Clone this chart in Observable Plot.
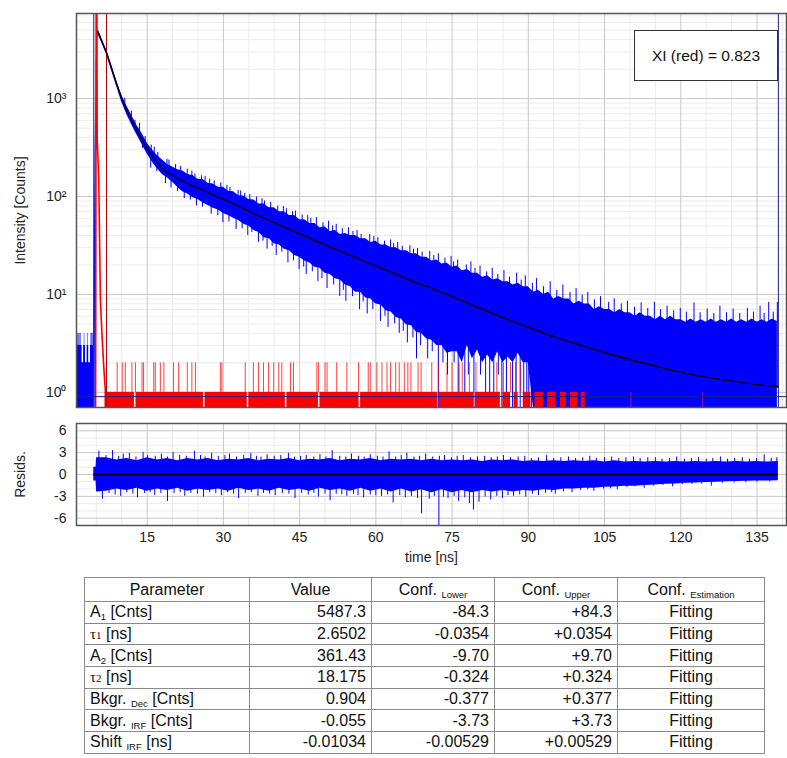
<!DOCTYPE html>
<html>
<head>
<meta charset="utf-8">
<script src="https://cdn.jsdelivr.net/npm/d3@7"></script>
<script src="https://cdn.jsdelivr.net/npm/@observablehq/plot@0.6"></script>
<style>
  body { margin: 0; background: #fff; font-family: "Liberation Sans", Arial, sans-serif; }
  #wrap { position: relative; width: 787px; height: 758px; overflow: hidden; }
  #wrap svg { display: block; }
  #chi {
    position: absolute; left: 634px; top: 30px; width: 144px; height: 51px;
    border: 1px solid #333; background: #fff; box-sizing: border-box;
    display: flex; align-items: center; justify-content: center;
    font-size: 15.5px; color: #111;
  }
  #params {
    position: absolute; left: 84px; top: 577px;
    border-collapse: collapse; table-layout: fixed; width: 680px;
    font-size: 16px; color: #111; border: 1px solid #555;
  }
  #params th, #params td {
    border: 1px solid #8a8a8a; padding: 0 5px; font-weight: normal;
    white-space: nowrap; overflow: hidden;
  }
  #params tr.head { height: 24px; }
  #params tr.row { height: 21.7px; }
  #params th { text-align: center; }
  #params td.num { text-align: right; }
  #params td.mid { text-align: center; }
  .sub { font-size: 9.5px; position: relative; top: 3px; }
  .tau { font-family: "Liberation Serif", "DejaVu Serif", serif; font-size: 15px; }
  .tau .n { font-size: 11px; }
</style>
</head>
<body>
<div id="wrap"></div>
<script>
// ---------- axes ----------
const xDomain = [1.1, 140.8];
const xTicks = [15, 30, 45, 60, 75, 90, 105, 120, 135];
const xMinor = [5, 10, 20, 25, 35, 40, 50, 55, 65, 70, 80, 85, 95, 100, 110, 115, 125, 130, 140];
const yDomain = [0.7, 7400];
const yTicks = [1, 10, 100, 1000];
const yTickLabels = ["10⁰", "10¹", "10²", "10³"];
const yMinor = [0.8, 0.9, 2, 3, 4, 5, 6, 7, 8, 9, 20, 30, 40, 50, 60, 70, 80, 90,
  200, 300, 400, 500, 600, 700, 800, 900, 2000, 3000, 4000, 5000, 6000, 7000];
const resDomain = [-7, 7];
const resTicks = [-6, -3, 0, 3, 6];
const resTickLabels = ["-6", "-3", "0", "3", "6"];
const resMinor = [-5, -4, -2, -1, 1, 2, 4, 5];

// ---------- fit parameters ----------
const paramName = ["A", "τ", "A", "τ", "Bkgr.", "Bkgr.", "Shift"];
const paramSub = ["1", "1", "2", "2", "Dec", "IRF", "IRF"];
const paramUnit = ["[Cnts]", "[ns]", "[Cnts]", "[ns]", "[Cnts]", "[Cnts]", "[ns]"];
const paramValue = ["5487.3", "2.6502", "361.43", "18.175", "0.904", "-0.055", "-0.01034"];
const confLower = ["-84.3", "-0.0354", "-9.70", "-0.324", "-0.377", "-3.73", "-0.00529"];
const confUpper = ["+84.3", "+0.0354", "+9.70", "+0.324", "+0.377", "+3.73", "+0.00529"];
const confEstimation = ["Fitting", "Fitting", "Fitting", "Fitting", "Fitting", "Fitting", "Fitting"];
const headMain = ["Parameter", "Value", "Conf.", "Conf.", "Conf."];
const headSub = ["", "", "Lower", "Upper", "Estimation"];
const chiLabel = "XI (red) = 0.823";

// ---------- decay counts (blue band, counts per channel) ----------
const bandT = [4.5, 4.75, 5.0, 5.3, ...d3.range(6, 140)];
const bandHi = [3, 300, 2600, 5150,
  4180, 3100, 2200, 1510, 1090, 840, 670, 530, 440, 352,
  300, 262, 236, 212, 200, 188, 182, 168, 164, 150,
  149, 137, 134, 124, 124, 113, 112, 102, 101, 93,
  92, 84, 84, 77, 77, 70, 70, 64, 64, 58,
  58, 53, 53, 48, 49, 44, 45, 41, 42, 40,
  40, 37, 37, 34, 35, 32, 32, 30, 30, 28,
  28, 26, 26, 24, 24, 22, 22.5, 20.5, 21, 19,
  19.5, 17.5, 18, 16.5, 16.5, 15, 15.5, 14, 14.5, 13.5,
  13.5, 12.5, 13, 12, 12, 10.5, 11, 10, 10.5, 9,
  9.5, 9, 9, 8, 8.5, 8, 8, 7, 7.5, 7,
  7, 6.5, 7, 6.5, 6.5, 6, 6.5, 6, 6, 5.5,
  6, 5.5, 6, 5.5, 5.5, 5.2, 5.6, 5.2, 5.5, 5.2,
  5.6, 5.2, 5.5, 5.2, 5.6, 5.2, 5.5, 5.2, 5.6, 5.2,
  5.5, 5.2, 5.6, 5.3];
const bandLo = [0.7, 0.7, 1500, 4550,
  3780, 2820, 1920, 1330, 920, 690, 535, 425, 340, 272,
  225, 192, 168, 155, 140, 124, 112, 106, 97, 93,
  86, 81, 76, 73, 67, 64, 60, 57, 52, 50,
  45, 43, 38, 37, 33, 32, 29, 28, 25, 24,
  22, 21, 19, 18.5, 16.5, 16, 14.5, 14, 12.5, 12,
  10.5, 10.5, 9.2, 9, 8, 7.8, 6.8, 6.6, 5.8, 5.6,
  4.9, 4.8, 4.1, 4, 3.5, 3.4, 3, 3, 2.5, 2.6,
  2.6, 2, 3, 2.2, 2.7, 2, 2.4, 2, 2.6, 2,
  2.3, 2, 2.5, 2, 2, 0.7, 0.7, 0.7, 0.7, 0.7,
  0.7, 0.7, 0.7, 0.7, 0.7, 0.7, 0.7, 0.7, 0.7, 0.7,
  0.7, 0.7, 0.7, 0.7, 0.7, 0.7, 0.7, 0.7, 0.7, 0.7,
  0.7, 0.7, 0.7, 0.7, 0.7, 0.7, 0.7, 0.7, 0.7, 0.7,
  0.7, 0.7, 0.7, 0.7, 0.7, 0.7, 0.7, 0.7, 0.7, 0.7,
  0.7, 0.7, 0.7, 0.7];

// counts before the excitation pulse
const preT = [1.1, 1.23, 1.89, 2.2, 2.5, 2.87, 3.2, 3.5, 3.85, 4.5];
const preHi = [3, 3, 3, 2, 3, 2, 3, 2, 3, 3];
const preSpikeT = [1.25, 1.4, 1.55, 1.75, 1.85, 2.6, 3.25, 3.9, 4.05, 4.2, 4.35];

// single-channel excursions above the band: [time, from, to]
const upSpikes = [
  [10.6, 860, 1010], [11.9, 630, 745], [13.5, 430, 560], [14.6, 330, 410], [15.8, 265, 335],
  [16.4, 245, 318], [17.1, 222, 282], [18.9, 185, 240], [19.3, 178, 236], [20.6, 160, 212],
  [21.6, 150, 203], [22.9, 142, 190], [23.8, 133, 182], [24.4, 127, 170], [25.7, 118, 163],
  [26.4, 115, 160], [27.3, 110, 150], [28.2, 103, 145], [29.5, 97, 138], [30.7, 91, 130],
  [31.3, 88, 124], [32.9, 80, 115], [33.4, 78, 114], [34.2, 75, 108], [35.2, 71, 105],
  [36.5, 66, 99], [37.6, 62, 95], [38.1, 60, 90], [39.3, 57, 87], [40.7, 52, 80],
  [41.8, 50, 79], [42.4, 48, 75], [43.6, 45, 70], [44.2, 43, 71], [45.5, 41, 65],
  [46.6, 38, 64], [47.2, 37, 60], [48.3, 35, 61], [49.6, 33, 54], [50.7, 31, 56],
  [51.5, 30, 50], [52.2, 29, 52], [53.4, 27, 47], [54.6, 26, 48], [55.5, 25, 44],
  [56.3, 23, 45], [57.1, 22, 41], [58.8, 21, 41], [59.6, 20, 39], [60.4, 19, 38],
  [61.7, 18, 35], [62.9, 17, 36], [63.5, 16.5, 33], [64.3, 16, 34], [65.2, 15, 31],
  [66.7, 14, 31.5], [67.4, 13.5, 29], [68.2, 13, 29.5], [69.1, 12.5, 27], [70.6, 12, 27.5],
  [71.4, 11.5, 25], [72.3, 11, 26], [73.6, 10.5, 23.5], [74.8, 9.5, 24.5], [75.3, 9.3, 21.5],
  [76.1, 9, 22.5], [77.8, 8.5, 20], [78.7, 8, 21.5], [79.5, 7.8, 18.5], [80.5, 7.4, 19.5],
  [81.8, 7, 17], [82.9, 6.5, 18.5], [84.0, 6.1, 16], [85.2, 5.8, 17.5], [86.3, 5.5, 15],
  [87.7, 5, 16.5], [88.6, 4.9, 14], [89.4, 4.6, 15.5], [90.8, 4.4, 13], [91.6, 4, 14.5],
  [93.0, 3.9, 12], [94.3, 3.8, 13.5], [95.6, 3.6, 11], [96.8, 3.4, 12.5], [98.2, 3.2, 10.5],
  [99.4, 3, 11.5], [100.6, 3, 9.8], [101.7, 2.8, 10.5], [103.0, 2.7, 8.8], [104.2, 2.6, 9.5],
  [105.8, 2.5, 8.3], [106.9, 2.4, 9], [108.3, 2.3, 8], [109.5, 2.2, 8.5], [110.9, 2.1, 7.4],
  [112.2, 2, 8.2], [113.5, 2, 7.2], [114.8, 1.9, 8.3], [116.0, 1.8, 7], [117.3, 1.7, 7.6],
  [118.6, 1.65, 6.8], [119.9, 1.6, 7.2], [121.1, 1.55, 6.6], [122.6, 1.5, 8.2], [123.8, 1.45, 6.5],
  [125.2, 1.4, 7.1], [126.5, 1.38, 6.4], [127.7, 1.3, 7.6], [129.0, 1.3, 6.5], [130.3, 1.3, 7.1],
  [131.6, 1.27, 6.4], [133.1, 1.2, 7.2], [134.3, 1.2, 6.6], [135.6, 1.2, 7.6], [136.4, 1.2, 6.4],
  [137.3, 1.2, 8.3], [138.2, 1.15, 6.6], [139.0, 1.1, 8.3]
];
// single-channel excursions below the band: [time, from, to]
const dnSpikes = [
  [11.2, 760, 660], [12.6, 600, 470], [14.1, 375, 310], [15.7, 258, 195], [16.9, 228, 180],
  [18.6, 190, 135], [19.7, 170, 122], [21.0, 155, 112], [22.3, 142, 95], [23.5, 134, 92],
  [24.7, 124, 80], [25.9, 116, 78], [27.6, 105, 66], [28.9, 99, 64], [29.9, 93, 54],
  [31.1, 88, 55], [32.5, 81, 46], [33.7, 77, 47], [34.8, 72, 40], [35.6, 69, 43],
  [36.9, 64, 34], [37.8, 61, 35], [38.6, 58, 29], [39.6, 56, 31], [40.4, 53, 25],
  [41.5, 50, 27], [42.7, 47, 21], [43.8, 45, 22], [44.9, 42, 18], [45.8, 40, 19],
  [46.3, 39, 16], [47.5, 36.5, 17], [48.6, 34, 13.5], [49.4, 33, 14.5], [50.4, 31, 11.5],
  [51.7, 30, 12.5], [52.9, 27, 9.5], [53.6, 26.5, 11], [54.1, 26, 8.5], [55.4, 25, 9.5],
  [56.8, 22, 7], [57.5, 22, 8.4], [58.3, 21, 6.3], [59.4, 20, 7], [60.9, 18, 5.3],
  [61.8, 17.8, 6], [62.4, 17, 4.6], [63.7, 16, 5], [64.6, 15, 4], [65.4, 15, 4.2],
  [66.2, 14, 3.2], [67.3, 13.6, 3.6], [68.0, 13, 2.2], [68.8, 12.7, 3], [70.2, 12, 2.2],
  [71.1, 11.5, 2.6], [72.3, 11, 0.7], [73.2, 10.5, 2], [74.1, 10, 1.5], [75.4, 9.3, 2],
  [76.2, 9, 0.7], [77.5, 8.5, 0.7], [78.2, 8.2, 1.5], [79.3, 7.8, 0.7], [80.6, 7.3, 1.5],
  [81.6, 7, 0.7], [82.4, 6.7, 0.7], [83.2, 6.4, 0.7], [84.1, 6.1, 1.5], [84.8, 5.9, 0.7],
  [85.7, 5.6, 0.7], [86.9, 5.3, 0.7], [87.6, 5.1, 0.7], [88.4, 5, 0.7], [89.1, 4.8, 0.7],
  [89.7, 4.7, 0.7], [90.1, 4.6, 0.7], [90.6, 4.5, 0.7]
];

// ---------- instrument response (red) ----------
const irfT = [4.85, 5.0, 5.08, 5.17, 5.48, 5.8, 6.1, 6.47, 6.8];
const irfC = [0.7, 60000, 60000, 400, 150, 9, 4, 1.8, 1];
const irfSegStart = [6.7, 12.8, 26.4, 35.0, 42.5, 49.0, 57.0, 72.5, 79.6, 85.0, 87.2, 89.0, 91.3, 93.8, 96.3, 98.3, 100.4];
const irfSegEnd = [12.5, 26.1, 34.7, 42.2, 48.7, 56.7, 72.2, 79.3, 84.5, 86.5, 88.0, 90.5, 93.0, 95.5, 97.5, 99.8, 101.2];
const irfTwoT = [9.1, 10.1, 10.7, 12.0, 12.7, 14.0, 14.3, 16.3, 16.6, 17.6, 18.3, 20.2, 21.2, 22.9, 23.8,
  24.5, 29.4, 29.7, 34.3, 35.9, 36.9, 37.9, 38.9, 39.9, 40.9, 41.5, 43.2, 43.8, 48.4, 48.7, 50.0,
  50.4, 52.3, 54.3, 56.6, 58.5, 58.9, 60.2, 61.2, 62.2, 62.9, 63.9, 64.6, 65.6, 66.3, 66.9, 68.3,
  68.9, 71.0, 72.3, 74.0, 75.0, 76.4, 77.0, 78.4, 79.7, 83.8, 85.1, 86.5, 87.5, 88.5];
const irfLoneT = [110.2, 124.3];

// ---------- fitted decay (black) ----------
const fitT = [5.3, 6, 7, 8, 9, 10, 11, 12, 13, 14, 15, 16, 17, 18, 19, 20, 22.5, 25, 28.7, 32, 36, 40,
  45, 50, 55, 60, 65, 70, 75, 80, 85, 90, 95, 100, 105, 110, 115, 120, 125, 130, 135, 139.2];
const fitC = [4860, 3960, 2960, 2050, 1420, 1010, 760, 590, 470, 378, 308, 257, 220, 194, 176, 163, 139, 122, 100, 84, 67, 54,
  41.5, 32, 25, 19.5, 15.2, 12, 9.5, 7.4, 5.8, 4.6, 3.7, 3.05, 2.55, 2.15, 1.85, 1.6, 1.43, 1.3, 1.2, 1.14];

// fit range markers and IRF reference
const rangeMarks = [4.5, 139.2];
const irfMark = 7.0;

// ---------- weighted residuals ----------
const resT = [4.5, 4.95, 5.05, ...d3.range(7, 139, 2), 139.2];
const resHi = [1.0, 1.0, 2.3,
  2.3, 2.0, 2.2, 1.9, 2.3, 2.0, 2.2, 1.9, 2.2, 2.0,
  2.2, 1.9, 2.1, 2.0, 2.2, 1.9, 2.1, 2.0, 2.2, 1.9,
  2.1, 2.0, 2.2, 1.9, 2.1, 2.0, 2.2, 1.9, 2.1, 2.0,
  2.1, 1.9, 2.1, 1.9, 2.0, 1.9, 2.0, 1.8, 2.0, 1.9,
  2.0, 1.8, 1.9, 1.8, 1.9, 1.8, 1.9, 1.8, 1.9, 1.7,
  1.9, 1.7, 1.8, 1.7, 1.8, 1.7, 1.8, 1.7, 1.8, 1.7,
  1.8, 1.7, 1.8, 1.7, 1.8, 1.7,
  1.8];
const resLo = [-0.9, -0.9, -2.4,
  -2.3, -2.0, -2.2, -1.9, -2.3, -2.0, -2.2, -1.9, -2.3, -2.0,
  -2.2, -2.0, -2.3, -1.9, -2.2, -2.0, -2.3, -1.9, -2.2, -2.0,
  -2.3, -1.9, -2.2, -2.0, -2.3, -1.9, -2.3, -2.0, -2.4, -2.0,
  -2.4, -2.1, -2.5, -2.1, -2.5, -2.2, -2.5, -2.2, -2.4, -2.2,
  -2.4, -2.2, -2.3, -2.1, -2.2, -2.0, -2.0, -1.9, -1.9, -1.75,
  -1.7, -1.6, -1.6, -1.5, -1.45, -1.35, -1.3, -1.2, -1.15, -1.1,
  -1.05, -1.0, -0.95, -0.92, -0.9, -0.88,
  -0.85];
// residual excursions: [time, value]
const resUp = [
  [5.5, 3.2], [6.9, 2.6], [8.2, 3.3], [9.4, 2.5], [10.3, 2.8], [11.5, 2.9], [12.8, 2.4], [14.2, 3.0],
  [15.1, 2.6], [16.6, 2.5], [17.8, 2.8], [19.0, 2.4], [20.1, 3.0], [21.4, 2.6], [22.7, 2.5], [24.3, 3.2],
  [25.5, 2.6], [26.4, 2.4], [27.7, 2.9], [29.0, 2.5], [30.3, 2.6], [31.2, 2.8], [32.6, 2.4], [34.0, 2.6],
  [35.4, 2.9], [36.5, 2.5], [37.4, 2.4], [38.6, 2.7], [40.0, 2.5], [41.3, 2.6], [42.8, 2.9], [44.0, 2.4],
  [45.2, 2.5], [46.3, 2.6], [47.8, 2.4], [49.0, 2.7], [50.2, 2.4], [51.4, 3.3], [52.9, 2.5], [54.1, 2.4],
  [55.2, 2.8], [56.6, 2.5], [57.7, 2.4], [58.9, 2.7], [60.3, 2.5], [61.4, 2.4], [62.6, 3.1], [63.9, 2.4],
  [65.0, 2.6], [66.1, 2.9], [67.5, 2.4], [68.6, 2.5], [69.8, 2.8], [71.2, 2.4], [72.5, 2.5], [73.5, 2.6],
  [74.9, 2.3], [76.0, 2.5], [77.2, 2.6], [78.6, 2.3], [80.0, 2.4], [81.4, 2.5], [82.7, 2.3], [83.9, 2.4],
  [85.1, 2.6], [86.5, 2.3], [88.0, 2.4], [89.3, 2.5], [90.6, 2.2], [92.0, 2.3], [93.6, 2.6], [95.0, 2.2],
  [96.4, 2.3], [97.9, 2.4], [99.3, 2.2], [100.7, 2.3], [102.1, 2.5], [103.4, 2.2], [105.0, 2.3], [106.4, 2.4],
  [107.8, 2.2], [109.2, 2.3], [110.7, 2.4], [112.0, 2.2], [113.5, 2.3], [115.0, 2.3], [116.3, 2.1], [117.8, 2.2],
  [119.2, 2.4], [120.7, 2.1], [122.1, 2.2], [123.5, 2.3], [125.0, 2.1], [126.3, 2.2], [127.8, 2.4], [129.2, 2.1],
  [130.6, 2.2], [132.1, 2.3], [133.5, 2.1], [134.9, 2.2], [136.4, 2.7], [137.8, 2.2], [138.9, 2.3]
];
const resDn = [
  [6.2, -3.4], [7.5, -2.6], [8.7, -2.8], [9.8, -3.0], [11.0, -2.5], [12.2, -2.7], [13.1, -3.2], [14.5, -2.6],
  [15.6, -2.5], [16.5, -2.9], [17.7, -2.6], [19.0, -3.7], [20.3, -2.6], [21.5, -2.5], [22.4, -3.0], [23.6, -2.6],
  [24.9, -2.7], [26.1, -3.1], [27.3, -2.5], [28.5, -2.6], [29.6, -2.9], [30.8, -2.5], [32.0, -2.7], [33.0, -3.3],
  [34.3, -2.6], [35.5, -2.5], [36.8, -3.0], [37.9, -2.6], [39.1, -2.7], [40.2, -2.9], [41.6, -2.6], [42.9, -2.7],
  [44.1, -3.3], [45.4, -2.6], [46.7, -2.8], [47.8, -2.6], [48.7, -3.1], [50.0, -2.7], [51.0, -3.6], [52.2, -2.7],
  [53.3, -2.8], [54.3, -3.0], [55.6, -2.7], [56.5, -2.9], [57.6, -3.2], [58.9, -2.8], [60.0, -2.9], [61.1, -3.0],
  [62.3, -2.8], [63.4, -3.9], [64.7, -2.9], [65.8, -3.2], [67.0, -3.0], [68.2, -3.3], [69.0, -5.4], [70.5, -3.4],
  [71.5, -3.0], [72.4, -7.0], [73.3, -3.1], [74.2, -3.3], [75.4, -3.0], [76.3, -3.7], [77.5, -3.2], [78.4, -4.0],
  [79.2, -4.9], [80.3, -3.8], [81.5, -3.1], [82.6, -3.5], [83.8, -3.0], [84.9, -3.3], [86.0, -2.9], [87.1, -3.0],
  [88.3, -2.8], [89.5, -3.1], [90.8, -2.7], [92.0, -2.9], [93.4, -2.6], [94.6, -2.5], [95.3, -2.7], [96.9, -2.4],
  [98.6, -2.5], [100.3, -2.2], [101.7, -2.1], [102.9, -2.3], [104.8, -2.0], [106.2, -1.95], [107.5, -2.1], [109.4, -1.8],
  [111.0, -1.7], [112.8, -1.9], [114.6, -1.6], [116.5, -1.5], [118.4, -1.7], [120.3, -1.4], [122.2, -1.35], [124.1, -1.3],
  [126.0, -1.6], [128.2, -1.2], [130.5, -1.15], [132.8, -1.1], [135.0, -1.05], [137.5, -1.0]
];

// ---------- styling ----------
const BLUE = "#0000ff", RED = "#ff0000", NAVY = "#1c1c8c", DARKRED = "#b40000";
const GRID_MAJOR = "#c8c8c8", GRID_MINOR = "#ebebeb", FRAME = "#555";
const font = '"Liberation Sans", Arial, sans-serif';

// ---------- assemble rows ----------
const band = bandT.map((t, i) => ({t, lo: bandLo[i], hi: bandHi[i]}));
const pre = preT.map((t, i) => ({t, hi: preHi[i]}));
const irf = irfT.map((t, i) => ({t, c: irfC[i]}));
const irfSegs = irfSegStart.map((a, i) => ({a, b: irfSegEnd[i]}));
const fit = fitT.map((t, i) => ({t, c: fitC[i]}));
const resBand = resT.map((t, i) => ({t, lo: resLo[i], hi: resHi[i]}));
const bkgDec = parseFloat(paramValue[4]);
const yFloor = yDomain[0];

const wrap = document.getElementById("wrap");

// ---------- decay panel ----------
const decay = Plot.plot({
  width: 787, height: 410,
  marginTop: 13, marginRight: 1, marginBottom: 3, marginLeft: 76,
  style: {fontFamily: font, fontSize: "14px", color: "#222", background: "transparent"},
  x: {domain: xDomain, axis: null},
  y: {
    type: "log", domain: yDomain, ticks: yTicks,
    tickFormat: d => yTickLabels[yTicks.indexOf(d)],
    tickSize: 0, tickPadding: 10,
    label: "Intensity [Counts]", labelAnchor: "center", labelArrow: "none", labelOffset: 61
  },
  marks: [
    Plot.ruleX(xMinor, {stroke: GRID_MINOR}),
    Plot.ruleY(yMinor, {stroke: GRID_MINOR}),
    Plot.ruleX(xTicks, {stroke: GRID_MAJOR}),
    Plot.ruleY(yTicks, {stroke: GRID_MAJOR}),
    Plot.areaY(pre, {x: "t", y1: yFloor, y2: "hi", fill: BLUE, curve: "step-after"}),
    Plot.ruleX(preSpikeT, {x: d => d, y1: 3, y2: 4, stroke: BLUE, strokeOpacity: 0.5}),
    Plot.areaY(band, {x: "t", y1: "lo", y2: "hi", fill: BLUE}),
    Plot.ruleX(upSpikes, {x: d => d[0], y1: d => d[1], y2: d => d[2], stroke: BLUE}),
    Plot.ruleX(dnSpikes, {x: d => d[0], y1: d => d[2], y2: d => d[1], stroke: BLUE}),
    Plot.rect(irfSegs, {x1: "a", x2: "b", y1: yFloor, y2: 1, fill: RED}),
    Plot.ruleX(irfTwoT, {x: d => d, y1: 1, y2: 2, stroke: RED, strokeOpacity: 0.75}),
    Plot.ruleX(irfLoneT, {x: d => d, y1: yFloor, y2: 1, stroke: "#b0208a", strokeOpacity: 0.8}),
    Plot.line(irf, {x: "t", y: "c", stroke: RED, strokeWidth: 1.6, clip: true}),
    Plot.ruleY([bkgDec], {stroke: NAVY}),
    Plot.ruleX(rangeMarks, {stroke: NAVY}),
    Plot.ruleX([irfMark], {stroke: DARKRED}),
    Plot.line(fit, {x: "t", y: "c", stroke: "#000", strokeWidth: 1.4, curve: "monotone-x"}),
    Plot.frame({stroke: FRAME, strokeWidth: 1.5})
  ]
});
wrap.appendChild(decay);

// ---------- residuals panel ----------
const resid = Plot.plot({
  width: 787, height: 160,
  marginTop: 13, marginRight: 1, marginBottom: 45, marginLeft: 76,
  style: {fontFamily: font, fontSize: "14px", color: "#222", background: "transparent"},
  x: {
    domain: xDomain, ticks: xTicks, tickSize: 0, tickPadding: 7,
    label: "time [ns]", labelAnchor: "center", labelArrow: "none", labelOffset: 36
  },
  y: {
    domain: resDomain, ticks: resTicks,
    tickFormat: d => resTickLabels[resTicks.indexOf(d)],
    tickSize: 0, tickPadding: 10,
    label: "Resids.", labelAnchor: "center", labelArrow: "none", labelOffset: 61
  },
  marks: [
    Plot.ruleX(xMinor, {stroke: GRID_MINOR}),
    Plot.ruleY(resMinor, {stroke: GRID_MINOR}),
    Plot.ruleX(xTicks, {stroke: GRID_MAJOR}),
    Plot.ruleY(resTicks, {stroke: GRID_MAJOR}),
    Plot.areaY(resBand, {x: "t", y1: "lo", y2: "hi", fill: BLUE}),
    Plot.ruleX(resUp, {x: d => d[0], y1: 0, y2: d => d[1], stroke: BLUE}),
    Plot.ruleX(resDn, {x: d => d[0], y1: 0, y2: d => d[1], stroke: BLUE, clip: true}),
    Plot.ruleY([0], {x1: rangeMarks[0], x2: rangeMarks[1], stroke: "#000", strokeWidth: 2}),
    Plot.frame({stroke: FRAME, strokeWidth: 1.5})
  ]
});
wrap.appendChild(resid);

// ---------- chi-square box ----------
const chi = document.createElement("div");
chi.id = "chi";
chi.textContent = chiLabel;
wrap.appendChild(chi);

// ---------- parameter table ----------
const table = document.createElement("table");
table.id = "params";
const colW = [165, 122, 123, 123, 147];
const colgroup = document.createElement("colgroup");
colW.forEach(w => { const c = document.createElement("col"); c.style.width = w + "px"; colgroup.appendChild(c); });
table.appendChild(colgroup);

const head = document.createElement("tr");
head.className = "head";
headMain.forEach((h, i) => {
  const th = document.createElement("th");
  th.textContent = h;
  if (headSub[i]) {
    th.append(" ");
    const s = document.createElement("span");
    s.className = "sub";
    s.textContent = headSub[i];
    th.appendChild(s);
  }
  head.appendChild(th);
});
table.appendChild(head);

paramName.forEach((name, i) => {
  const tr = document.createElement("tr");
  tr.className = "row";
  const c0 = document.createElement("td");
  if (name === "τ") {
    const t = document.createElement("span");
    t.className = "tau";
    t.textContent = "τ";
    const n = document.createElement("span");
    n.className = "n";
    n.textContent = paramSub[i];
    t.appendChild(n);
    c0.appendChild(t);
  } else {
    c0.append(name);
    if (name !== "A") c0.append(" ");
    const s = document.createElement("span");
    s.className = "sub";
    s.textContent = paramSub[i];
    c0.appendChild(s);
  }
  c0.append(" " + paramUnit[i]);
  tr.appendChild(c0);
  [paramValue[i], confLower[i], confUpper[i]].forEach(v => {
    const td = document.createElement("td");
    td.className = "num";
    td.textContent = v;
    tr.appendChild(td);
  });
  const ce = document.createElement("td");
  ce.className = "mid";
  ce.textContent = confEstimation[i];
  tr.appendChild(ce);
  table.appendChild(tr);
});
wrap.appendChild(table);
</script>
</body>
</html>
